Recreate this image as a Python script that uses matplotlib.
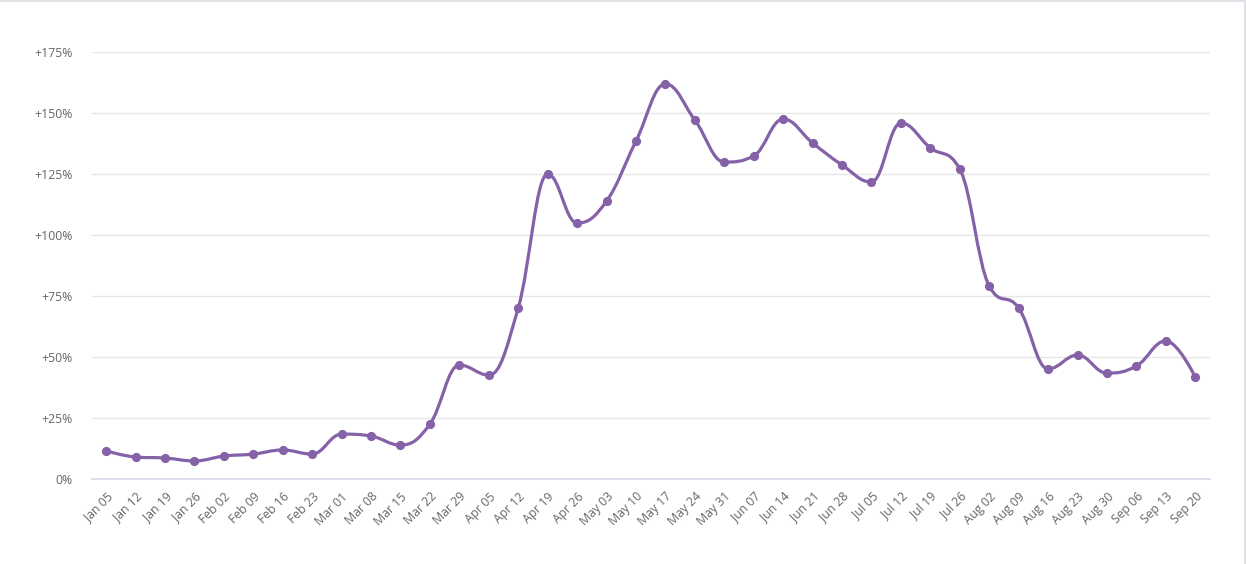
import matplotlib
matplotlib.use("Agg")
import matplotlib.pyplot as plt
from matplotlib.path import Path
from matplotlib.patches import PathPatch
from matplotlib.lines import Line2D
from matplotlib.ticker import FuncFormatter

plt.rcParams['font.family'] = ['Open Sans', 'DejaVu Sans']

# weekly change, percent
weeks = ["Jan 05", "Jan 12", "Jan 19", "Jan 26", "Feb 02", "Feb 09", "Feb 16", "Feb 23",
         "Mar 01", "Mar 08", "Mar 15", "Mar 22", "Mar 29", "Apr 05", "Apr 12", "Apr 19",
         "Apr 26", "May 03", "May 10", "May 17", "May 24", "May 31", "Jun 07", "Jun 14",
         "Jun 21", "Jun 28", "Jul 05", "Jul 12", "Jul 19", "Jul 26", "Aug 02", "Aug 09",
         "Aug 16", "Aug 23", "Aug 30", "Sep 06", "Sep 13", "Sep 20"]
change = [11.5, 9.0, 8.6, 7.4, 9.4, 10.2, 11.9, 10.2,
          18.4, 17.6, 13.9, 22.5, 46.7, 42.6, 70.1, 125.0,
          104.9, 113.9, 138.5, 161.9, 147.1, 129.9, 132.4, 147.5,
          137.7, 128.7, 121.7, 145.9, 135.7, 127.0, 79.1, 70.1,
          45.1, 50.8, 43.4, 46.3, 56.6, 41.8]
y_ticks = [0, 25, 50, 75, 100, 125, 150, 175]

line_color = "#8561a8"
label_color = "#666666"


def spline_path(xs, ys, smoothing=1.5):
    # highcharts-like spline: cubic bezier with clamped control points
    n = len(xs)
    left = [(xs[i], ys[i]) for i in range(n)]
    right = [(xs[i], ys[i]) for i in range(n)]
    denom = smoothing + 1
    for i in range(1, n - 1):
        px, py = xs[i], ys[i]
        lx, ly = xs[i - 1], ys[i - 1]
        nx, ny = xs[i + 1], ys[i + 1]
        lcx = (smoothing * px + lx) / denom
        lcy = (smoothing * py + ly) / denom
        rcx = (smoothing * px + nx) / denom
        rcy = (smoothing * py + ny) / denom
        corr = ((rcy - lcy) * (rcx - px)) / (rcx - lcx) + py - rcy
        lcy += corr
        rcy += corr
        if lcy > ly and lcy > py:
            lcy = max(ly, py)
            rcy = 2 * py - lcy
        elif lcy < ly and lcy < py:
            lcy = min(ly, py)
            rcy = 2 * py - lcy
        if rcy > ny and rcy > py:
            rcy = max(ny, py)
            lcy = 2 * py - rcy
        elif rcy < ny and rcy < py:
            rcy = min(ny, py)
            lcy = 2 * py - rcy
        left[i] = (lcx, lcy)
        right[i] = (rcx, rcy)
    verts = [(xs[0], ys[0])]
    codes = [Path.MOVETO]
    for i in range(1, n):
        verts += [right[i - 1], left[i], (xs[i], ys[i])]
        codes += [Path.CURVE4] * 3
    return Path(verts, codes)


fig = plt.figure(figsize=(12.46, 5.64), dpi=100)
ax = fig.add_axes([92 / 1246, 85 / 564, (1210 - 92) / 1246, (479 - 52) / 564])

xs = list(range(len(weeks)))
ax.add_patch(PathPatch(spline_path(xs, change), facecolor="none",
                       edgecolor=line_color, lw=2.3, zorder=3, capstyle="round"))
ax.plot(xs, change, "o", color=line_color, markersize=5.6, zorder=4)

ax.set_xlim(-0.48, 37.5)
ax.set_ylim(0, 175)
ax.set_yticks(y_ticks)
ax.yaxis.set_major_formatter(FuncFormatter(lambda v, p: "0%" if v == 0 else "+%d%%" % v))
ax.grid(axis="y", color="#e6e6e6", lw=1)
ax.set_axisbelow(True)

ax.set_xticks(xs)
ax.set_xticklabels(weeks, rotation=45, ha="right", rotation_mode="anchor")
ax.tick_params(axis="x", length=0, pad=8, labelsize=8.8, labelcolor=label_color)
ax.tick_params(axis="y", length=0, pad=14, labelsize=8.8, labelcolor=label_color)

for side in ["top", "right", "left"]:
    ax.spines[side].set_visible(False)
ax.spines["bottom"].set_color("#d8dcea")
ax.spines["bottom"].set_linewidth(1.3)
ax.spines["bottom"].set_zorder(1)

# light frame lines at top and right of the picture
fig.add_artist(Line2D([0, 1], [0.999, 0.999], transform=fig.transFigure, color="#dfe3e8", lw=1.5))
fig.add_artist(Line2D([0.9993, 0.9993], [0, 1], transform=fig.transFigure, color="#dfe3e8", lw=1.5))

fig.savefig("out.png", dpi=100)
